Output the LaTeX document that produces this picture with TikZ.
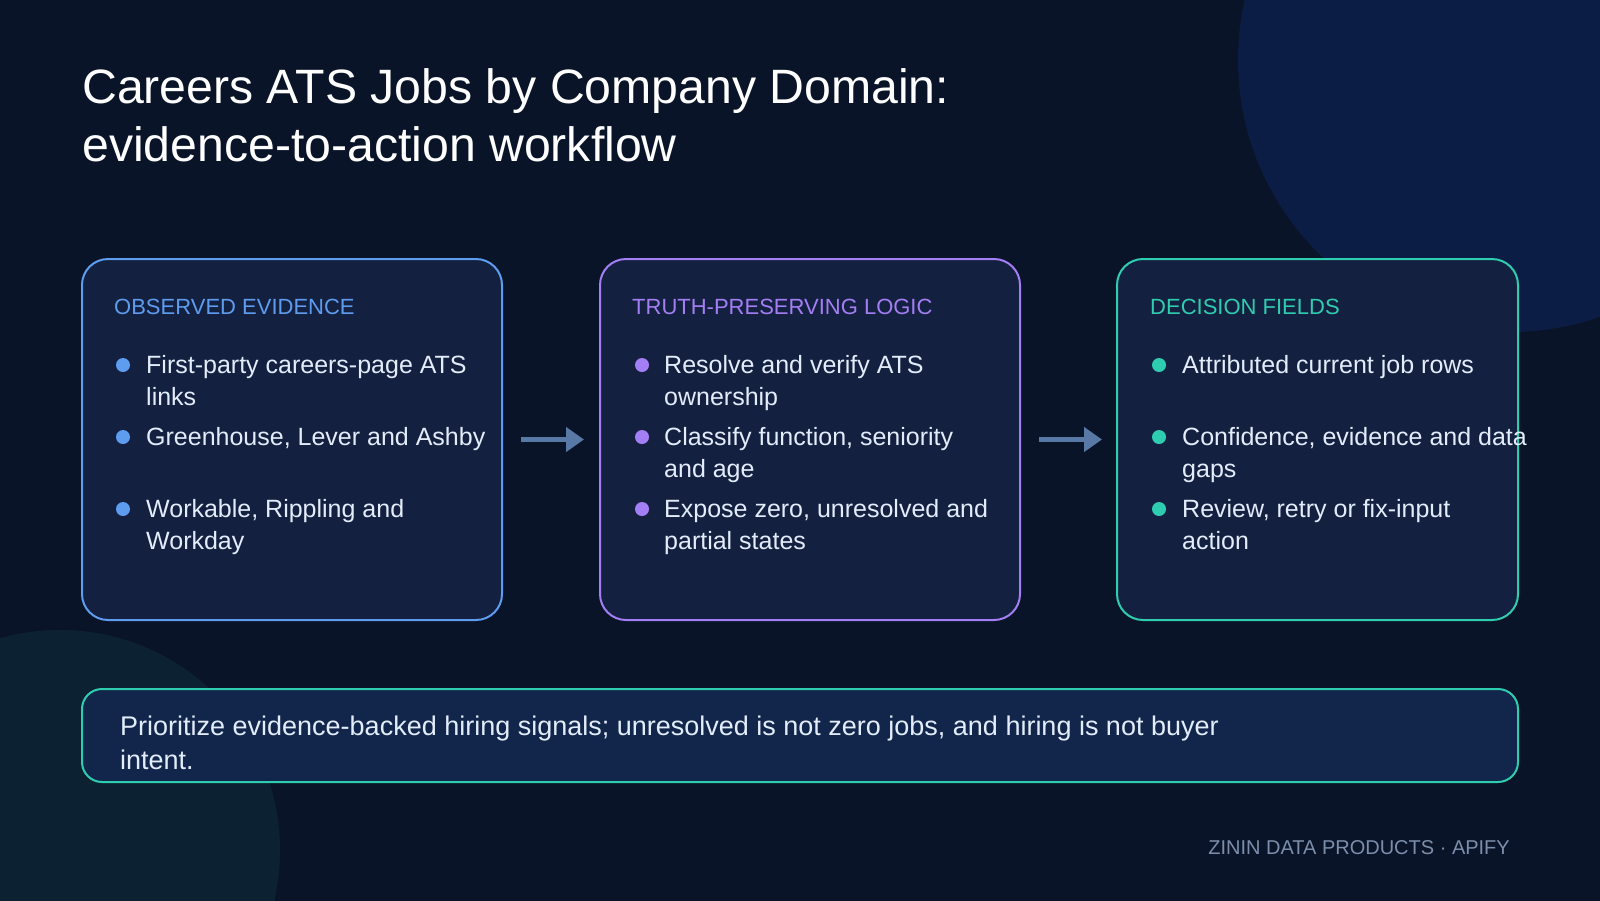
\documentclass[tikz,border=0pt]{standalone}
\usepackage{fontspec}
\setmainfont{Liberation Sans}
\usepackage{xcolor}
\usetikzlibrary{arrows.meta, positioning}

\definecolor{latar}{HTML}{0A1428}
\definecolor{bulatbiru}{HTML}{0C1D45}
\definecolor{bulathijau}{HTML}{0C2233}
\definecolor{isipanel}{HTML}{13203F}
\definecolor{isibawah}{HTML}{11264A}
\definecolor{biru}{HTML}{5E9CF0}
\definecolor{ungu}{HTML}{A47EF4}
\definecolor{hijau}{HTML}{2FCDB0}
\definecolor{teks}{HTML}{E3ECFA}
\definecolor{panahwarna}{HTML}{5878A6}
\definecolor{kaki}{HTML}{7C8EAA}

\begin{document}
\begin{tikzpicture}[
    x=1pt, y=-1pt,
    panel/.style={draw, line width=2pt, rounded corners=26pt, fill=isipanel,
                  minimum height=361pt, inner sep=0pt},
    judul/.style={anchor=base west, inner sep=0pt, font=\fontsize{22}{26}\selectfont},
    butir/.style={anchor=base west, inner sep=0pt, align=left, text=teks,
                  font=\fontsize{25}{32}\selectfont},
    titik/.style={circle, inner sep=0pt, minimum size=14pt},
    alur/.style={-{Triangle[length=18pt, width=24pt]}, line width=5pt, draw=panahwarna,
                 shorten <=18pt, shorten >=15pt}
  ]
    % latar belakang
    \useasboundingbox (0,0) rectangle (1600,900);
    \fill[latar] (-4,-4) rectangle (1604,904);
    \begin{scope}
      \clip (-4,-4) rectangle (1604,904);
      \fill[bulatbiru] (1510,60) circle (272);
      \fill[bulathijau] (60,850) circle (220);
    \end{scope}

    % base = baris terakhir
    \node[anchor=base west, inner sep=0pt, align=left, text=white,
          font=\fontsize{48.2}{58}\selectfont] (judulutama) at (82,161)
      {Careers ATS Jobs by Company Domain:\\evidence-to-action workflow};

    % tiga panel
    \node[panel, draw=biru, minimum width=420pt] (bukti) at (292,439.5) {};
    \node[panel, draw=ungu, minimum width=420pt] (logika) at (810,439.5) {};
    \node[panel, draw=hijau, minimum width=401pt] (keputusan) at (1317.5,439.5) {};

    \node[judul, text=biru] (judulbukti) at (114,314) {OBSERVED EVIDENCE};
    \node[judul, text=ungu] (judullogika) at (632,314) {TRUTH-PRESERVING LOGIC};
    \node[judul, text=hijau] (judulkeputusan) at (1150,314) {DECISION FIELDS};

    \node[titik, fill=biru] (b1) at (123,365) {};
    \node[butir] (tb1) at (146,405) {First-party careers-page ATS\\links};
    \node[titik, fill=biru] (b2) at (123,437) {};
    \node[butir] (tb2) at (146,445) {Greenhouse, Lever and Ashby};
    \node[titik, fill=biru] (b3) at (123,509) {};
    \node[butir] (tb3) at (146,549) {Workable, Rippling and\\Workday};

    \node[titik, fill=ungu] (l1) at (642,365) {};
    \node[butir] (tl1) at (664,405) {Resolve and verify ATS\\ownership};
    \node[titik, fill=ungu] (l2) at (642,437) {};
    \node[butir] (tl2) at (664,477) {Classify function, seniority\\and age};
    \node[titik, fill=ungu] (l3) at (642,509) {};
    \node[butir] (tl3) at (664,549) {Expose zero, unresolved and\\partial states};

    \node[titik, fill=hijau] (k1) at (1159,365) {};
    \node[butir] (tk1) at (1182,373) {Attributed current job rows};
    \node[titik, fill=hijau] (k2) at (1159,437) {};
    \node[butir] (tk2) at (1182,477) {Confidence, evidence and data\\gaps};
    \node[titik, fill=hijau] (k3) at (1159,509) {};
    \node[butir] (tk3) at (1182,549) {Review, retry or fix-input\\action};

    \draw[alur] (bukti) -- (logika);
    \draw[alur, shorten >=14pt] (logika) -- (keputusan);

    % catatan bawah
    \node[draw=hijau, line width=2pt, rounded corners=20pt, fill=isibawah,
          minimum width=1436pt, minimum height=93pt] (catatan) at (800,735.5) {};
    \node[anchor=base west, inner sep=0pt, align=left, text=teks,
          font=\fontsize{27}{34}\selectfont] (teksCatatan) at (120,769)
      {Prioritize evidence-backed hiring signals; unresolved is not zero jobs, and hiring is not buyer\\intent.};

    \node[anchor=base east, inner sep=0pt, text=kaki, font=\fontsize{20}{24}\selectfont]
      (kakihalaman) at (1510,854) {ZININ DATA PRODUCTS · APIFY};
  \end{tikzpicture}
\end{document}
